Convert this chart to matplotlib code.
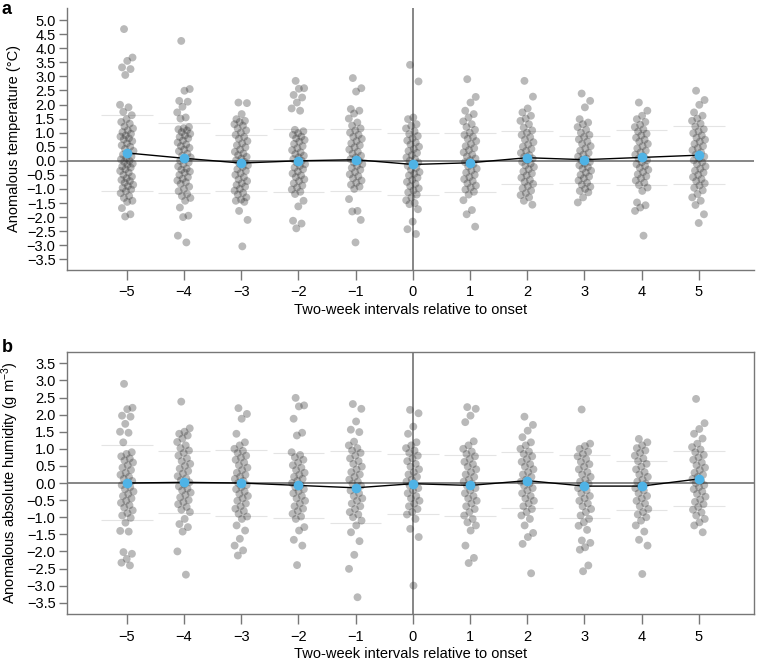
import numpy as np
import matplotlib
matplotlib.use('Agg')
import matplotlib.pyplot as plt

plt.rcParams['font.family'] = ['Liberation Sans', 'DejaVu Sans']
plt.rcParams['mathtext.default'] = 'regular'

intervals = [-5, -4, -3, -2, -1, 0, 1, 2, 3, 4, 5]

# panel a: anomalous temperature (degC), one list per interval
temp_pts = [
    [4.68, 3.67, 3.55, 3.32, 3.26, 3.05, 1.99, 1.9, 1.74, 1.62, 1.48, 1.38, 1.32, 1.22, 1.15, 1.08, 1.02, 0.96, 0.9,
     0.86, 0.8, 0.76, 0.7, 0.62, 0.55, 0.5, 0.42, 0.35, 0.28, 0.22, 0.15, 0.1, 0.05, 0.0, -0.04, -0.1, -0.14, -0.2,
     -0.24, -0.3, -0.36, -0.42, -0.5, -0.56, -0.62, -0.68, -0.72, -0.78, -0.85, -0.9, -0.96, -1.02, -1.08, -1.15,
     -1.25, -1.32, -1.42, -1.46, -1.68, -1.9, -1.98],
    [4.26, 2.55, 2.49, 2.13, 2.1, 1.92, 1.72, 1.54, 1.5, 1.2, 1.16, 1.12, 1.08, 1.02, 0.96, 0.9, 0.85, 0.8, 0.72, 0.65,
     0.58, 0.52, 0.46, 0.4, 0.34, 0.25, 0.18, 0.12, 0.06, 0.0, -0.06, -0.12, -0.2, -0.28, -0.32, -0.38, -0.42, -0.5,
     -0.58, -0.64, -0.7, -0.76, -0.82, -0.92, -1.0, -1.08, -1.18, -1.25, -1.32, -1.42, -1.66, -1.95, -2.0, -2.66, -2.9],
    [2.07, 2.05, 1.66, 1.48, 1.42, 1.38, 1.3, 1.25, 1.15, 1.08, 1.0, 0.92, 0.85, 0.78, 0.7, 0.62, 0.55, 0.48, 0.4,
     0.32, 0.26, 0.2, 0.14, 0.08, 0.02, -0.04, -0.1, -0.16, -0.22, -0.3, -0.36, -0.44, -0.5, -0.58, -0.66, -0.72, -0.8,
     -0.86, -0.92, -1.0, -1.06, -1.14, -1.2, -1.3, -1.38, -1.42, -1.46, -1.78, -2.1, -3.04],
    [2.84, 2.58, 2.56, 2.34, 2.25, 2.07, 1.86, 1.78, 1.1, 1.05, 0.98, 0.92, 0.86, 0.8, 0.74, 0.68, 0.6, 0.52, 0.45,
     0.38, 0.3, 0.24, 0.18, 0.12, 0.06, 0.0, -0.06, -0.12, -0.18, -0.24, -0.3, -0.38, -0.45, -0.52, -0.58, -0.66,
     -0.72, -0.8, -0.88, -0.95, -1.02, -1.1, -1.18, -1.42, -1.62, -2.13, -2.23, -2.4],
    [2.94, 2.58, 2.46, 1.84, 1.78, 1.68, 1.5, 1.36, 1.25, 1.15, 1.08, 1.0, 0.92, 0.85, 0.78, 0.7, 0.62, 0.55, 0.48,
     0.4, 0.32, 0.25, 0.18, 0.12, 0.06, 0.0, -0.06, -0.12, -0.18, -0.25, -0.32, -0.4, -0.48, -0.55, -0.62, -0.7,
     -0.78, -0.85, -0.92, -1.0, -1.36, -1.78, -1.8, -2.1, -2.9],
    [3.41, 2.82, 1.54, 1.48, 1.3, 1.24, 1.15, 1.05, 0.95, 0.88, 0.8, 0.72, 0.65, 0.58, 0.5, 0.42, 0.35, 0.28, 0.2,
     0.12, 0.06, 0.0, -0.06, -0.12, -0.18, -0.25, -0.32, -0.4, -0.46, -0.52, -0.6, -0.68, -0.75, -0.82, -0.9, -0.98,
     -1.05, -1.12, -1.2, -1.3, -1.4, -1.5, -1.54, -1.72, -2.16, -2.43, -2.6],
    [2.9, 2.27, 2.07, 1.78, 1.66, 1.54, 1.4, 1.3, 1.2, 1.1, 1.0, 0.92, 0.85, 0.78, 0.7, 0.6, 0.52, 0.45, 0.38, 0.3,
     0.22, 0.15, 0.08, 0.02, -0.05, -0.12, -0.2, -0.28, -0.35, -0.42, -0.5, -0.58, -0.65, -0.72, -0.8, -0.88, -0.95,
     -1.02, -1.1, -1.2, -1.4, -1.75, -1.9, -2.34],
    [2.84, 2.28, 1.86, 1.72, 1.6, 1.5, 1.42, 1.3, 1.18, 1.08, 1.0, 0.92, 0.84, 0.75, 0.66, 0.58, 0.5, 0.42, 0.35,
     0.28, 0.2, 0.14, 0.08, 0.02, -0.04, -0.1, -0.16, -0.22, -0.3, -0.38, -0.45, -0.52, -0.6, -0.68, -0.75, -0.82,
     -0.9, -0.98, -1.06, -1.15, -1.22, -1.3, -1.42, -1.56],
    [2.39, 2.13, 1.9, 1.48, 1.36, 1.3, 1.2, 1.1, 1.0, 0.92, 0.85, 0.76, 0.68, 0.6, 0.52, 0.44, 0.36, 0.28, 0.22, 0.15,
     0.08, 0.02, -0.04, -0.1, -0.16, -0.22, -0.28, -0.35, -0.42, -0.5, -0.56, -0.62, -0.7, -0.78, -0.85, -0.92, -1.0,
     -1.07, -1.12, -1.3, -1.48],
    [2.07, 1.78, 1.6, 1.48, 1.38, 1.28, 1.2, 1.12, 1.04, 0.96, 0.9, 0.82, 0.75, 0.68, 0.6, 0.52, 0.44, 0.36, 0.3,
     0.22, 0.15, 0.08, 0.02, -0.05, -0.12, -0.18, -0.25, -0.32, -0.4, -0.48, -0.55, -0.62, -0.7, -0.78, -0.86, -0.95,
     -1.07, -1.48, -1.58, -1.66, -1.78, -2.66],
    [2.49, 2.16, 1.99, 1.72, 1.6, 1.5, 1.42, 1.32, 1.22, 1.12, 1.05, 0.98, 0.9, 0.82, 0.75, 0.68, 0.6, 0.52, 0.45,
     0.38, 0.3, 0.22, 0.15, 0.08, 0.02, -0.05, -0.12, -0.2, -0.28, -0.35, -0.42, -0.5, -0.58, -0.65, -0.72, -0.8,
     -0.88, -0.96, -1.05, -1.18, -1.3, -1.42, -1.57, -1.9, -2.21],
]
temp_mean = [0.28, 0.09, -0.08, 0.0, 0.04, -0.13, -0.07, 0.11, 0.04, 0.12, 0.2]
temp_hi = [1.63, 1.34, 0.92, 1.13, 1.14, 0.99, 0.99, 1.06, 0.88, 1.1, 1.24]
temp_lo = [-1.07, -1.15, -1.07, -1.1, -1.07, -1.2, -1.1, -0.83, -0.79, -0.86, -0.82]

# panel b: anomalous absolute humidity (g m-3)
hum_pts = [
    [2.9, 2.2, 2.16, 1.97, 1.94, 1.73, 1.5, 1.47, 1.19, 0.9, 0.85, 0.78, 0.72, 0.66, 0.6, 0.52, 0.45, 0.38, 0.3,
     0.24, 0.18, 0.12, 0.06, 0.0, -0.06, -0.12, -0.18, -0.25, -0.32, -0.38, -0.45, -0.52, -0.58, -0.65, -0.72, -0.8,
     -0.88, -0.95, -1.02, -1.16, -1.4, -1.42, -2.02, -2.07, -2.22, -2.33, -2.41],
    [2.38, 1.6, 1.5, 1.44, 1.39, 1.3, 1.2, 1.1, 1.02, 0.95, 0.88, 0.8, 0.72, 0.64, 0.56, 0.5, 0.42, 0.35, 0.28, 0.2,
     0.14, 0.08, 0.02, -0.04, -0.1, -0.16, -0.22, -0.28, -0.35, -0.42, -0.5, -0.56, -0.62, -0.7, -0.78, -0.85, -1.05,
     -1.2, -1.29, -1.42, -2.0, -2.68],
    [2.19, 2.02, 1.88, 1.44, 1.19, 1.1, 1.0, 0.94, 0.88, 0.8, 0.74, 0.68, 0.6, 0.52, 0.45, 0.38, 0.3, 0.24, 0.18,
     0.12, 0.06, 0.0, -0.06, -0.12, -0.18, -0.25, -0.32, -0.38, -0.45, -0.52, -0.6, -0.68, -0.75, -0.82, -0.9, -0.98,
     -1.05, -1.24, -1.39, -1.63, -1.83, -1.97, -2.12],
    [2.49, 2.27, 2.24, 1.88, 1.47, 1.39, 0.9, 0.82, 0.75, 0.68, 0.6, 0.52, 0.45, 0.38, 0.3, 0.24, 0.18, 0.12, 0.06,
     0.0, -0.06, -0.12, -0.18, -0.24, -0.3, -0.38, -0.45, -0.52, -0.6, -0.68, -0.75, -0.82, -0.9, -0.98, -1.05,
     -1.29, -1.39, -1.66, -1.83, -2.4],
    [2.31, 2.17, 1.8, 1.56, 1.49, 1.21, 1.1, 1.02, 0.95, 0.88, 0.8, 0.72, 0.64, 0.56, 0.48, 0.4, 0.32, 0.25, 0.18,
     0.1, 0.04, -0.02, -0.08, -0.15, -0.22, -0.3, -0.38, -0.45, -0.52, -0.6, -0.68, -0.76, -0.85, -0.92, -1.0, -1.1,
     -1.24, -1.44, -1.7, -2.1, -2.51, -3.34],
    [2.14, 2.04, 1.65, 1.44, 1.19, 1.1, 1.02, 0.95, 0.88, 0.8, 0.72, 0.64, 0.56, 0.48, 0.4, 0.32, 0.25, 0.18, 0.1,
     0.04, -0.02, -0.08, -0.15, -0.22, -0.3, -0.38, -0.45, -0.52, -0.6, -0.68, -0.76, -0.85, -0.92, -1.05, -1.34,
     -1.58, -3.0],
    [2.22, 2.17, 1.97, 1.78, 1.22, 1.1, 1.0, 0.92, 0.85, 0.78, 0.7, 0.62, 0.55, 0.48, 0.4, 0.32, 0.25, 0.18, 0.1,
     0.04, -0.02, -0.08, -0.15, -0.22, -0.3, -0.38, -0.45, -0.52, -0.6, -0.68, -0.76, -0.85, -0.95, -1.05, -1.15,
     -1.24, -1.39, -1.83, -2.19, -2.34],
    [1.94, 1.7, 1.53, 1.34, 1.19, 1.1, 1.0, 0.92, 0.85, 0.78, 0.7, 0.62, 0.55, 0.48, 0.4, 0.32, 0.25, 0.18, 0.1,
     0.04, -0.02, -0.08, -0.15, -0.22, -0.3, -0.38, -0.45, -0.52, -0.6, -0.68, -0.76, -0.85, -0.95, -1.05, -1.24,
     -1.46, -1.58, -1.78, -2.64],
    [2.15, 1.15, 1.08, 1.0, 0.92, 0.85, 0.78, 0.7, 0.62, 0.55, 0.48, 0.4, 0.32, 0.25, 0.18, 0.1, 0.04, -0.02, -0.08,
     -0.15, -0.22, -0.3, -0.38, -0.45, -0.52, -0.6, -0.68, -0.76, -0.85, -0.95, -1.05, -1.15, -1.25, -1.37, -1.68,
     -1.75, -1.88, -1.95, -2.41, -2.58],
    [1.29, 1.19, 1.1, 1.02, 0.95, 0.88, 0.8, 0.72, 0.64, 0.56, 0.48, 0.4, 0.32, 0.25, 0.18, 0.1, 0.04, -0.02, -0.08,
     -0.15, -0.22, -0.3, -0.38, -0.45, -0.52, -0.6, -0.68, -0.76, -0.85, -0.92, -1.0, -1.1, -1.24, -1.42, -1.66,
     -1.83, -2.66],
    [2.46, 1.75, 1.58, 1.44, 1.3, 1.15, 1.05, 0.98, 0.9, 0.82, 0.75, 0.68, 0.6, 0.52, 0.45, 0.38, 0.3, 0.24, 0.18,
     0.12, 0.06, 0.0, -0.06, -0.12, -0.18, -0.25, -0.32, -0.4, -0.48, -0.55, -0.62, -0.7, -0.78, -0.86, -0.95, -1.05,
     -1.15, -1.24, -1.44],
]
hum_mean = [0.0, 0.02, 0.0, -0.07, -0.14, -0.02, -0.07, 0.07, -0.09, -0.09, 0.12]
hum_hi = [1.1, 0.94, 0.97, 0.88, 0.94, 0.85, 0.82, 0.9, 0.83, 0.65, 0.94]
hum_lo = [-1.08, -0.88, -0.96, -1.03, -1.17, -0.9, -0.96, -0.74, -1.02, -0.8, -0.68]

temp_yticks = np.arange(-3.5, 5.01, 0.5)
hum_yticks = np.arange(-3.5, 3.51, 0.5)

spine_c = '#777777'
dot_c = '#333333'
blue = '#4fb3e6'
fs = 10.5


def draw_panel(ax, pts, means, hi, lo, yticks, ylim, ylabel, boxed):
    for x, vals, h, l in zip(intervals, pts, hi, lo):
        n = len(vals)
        # deterministic horizontal spread so points don't stack
        jit = ((np.arange(n) * 0.6180339887 + 0.3) % 1.0 - 0.5) * 0.24
        ax.scatter(x + jit, vals, s=32, color=dot_c, alpha=0.34, edgecolors='none', zorder=3)
        ax.hlines([h, l], x - 0.45, x + 0.45, color='#e4e4e4', lw=0.8, zorder=1)
    ax.axhline(0, color='#666666', lw=1.1, zorder=2)
    ax.axvline(0, color='#666666', lw=1.1, zorder=2)
    ax.plot(intervals, means, color='black', lw=1.0, zorder=4)
    ax.plot(intervals, means, 'o', color=blue, ms=7, mec='none', zorder=5)

    ax.set_xlim(-6.05, 5.97)
    ax.set_ylim(*ylim)
    ax.set_xticks(intervals)
    ax.set_xticklabels([str(v).replace('-', '\u2212') for v in intervals])
    ax.set_yticks(yticks)
    ax.set_yticklabels([f'{v:.1f}'.replace('-', '\u2212') for v in yticks])
    ax.tick_params(axis='x', length=7, width=1, color=spine_c, pad=4, labelsize=fs)
    ax.tick_params(axis='y', length=6, width=1, color=spine_c, pad=2, labelsize=fs)
    for side, sp in ax.spines.items():
        sp.set_color(spine_c)
        sp.set_linewidth(1)
        if not boxed and side in ('top', 'right'):
            sp.set_visible(False)
    ax.set_xlabel('Two-week intervals relative to onset', fontsize=fs, va='top')
    ax.xaxis.set_label_coords(0.5, -0.125)
    ax.set_ylabel(ylabel, fontsize=fs)
    ax.yaxis.set_label_coords(-0.066, 0.5)


fig = plt.figure(figsize=(7.59, 6.6), dpi=100)
ax1 = fig.add_axes([0.0879, 0.5909, 0.9059, 0.397])
ax2 = fig.add_axes([0.0879, 0.0692, 0.9059, 0.3979])

draw_panel(ax1, temp_pts, temp_mean, temp_hi, temp_lo, temp_yticks, (-3.88, 5.43),
           'Anomalous temperature (\u00b0C)', False)
draw_panel(ax2, hum_pts, hum_mean, hum_hi, hum_lo, hum_yticks, (-3.84, 3.84),
           'Anomalous absolute humidity (g m$^{\u22123}$)', True)

fig.text(0.002, 0.999, 'a', fontsize=13, fontweight='bold', va='top', ha='left')
fig.text(0.002, 0.487, 'b', fontsize=13, fontweight='bold', va='top', ha='left')

fig.savefig('out.png', dpi=100)
